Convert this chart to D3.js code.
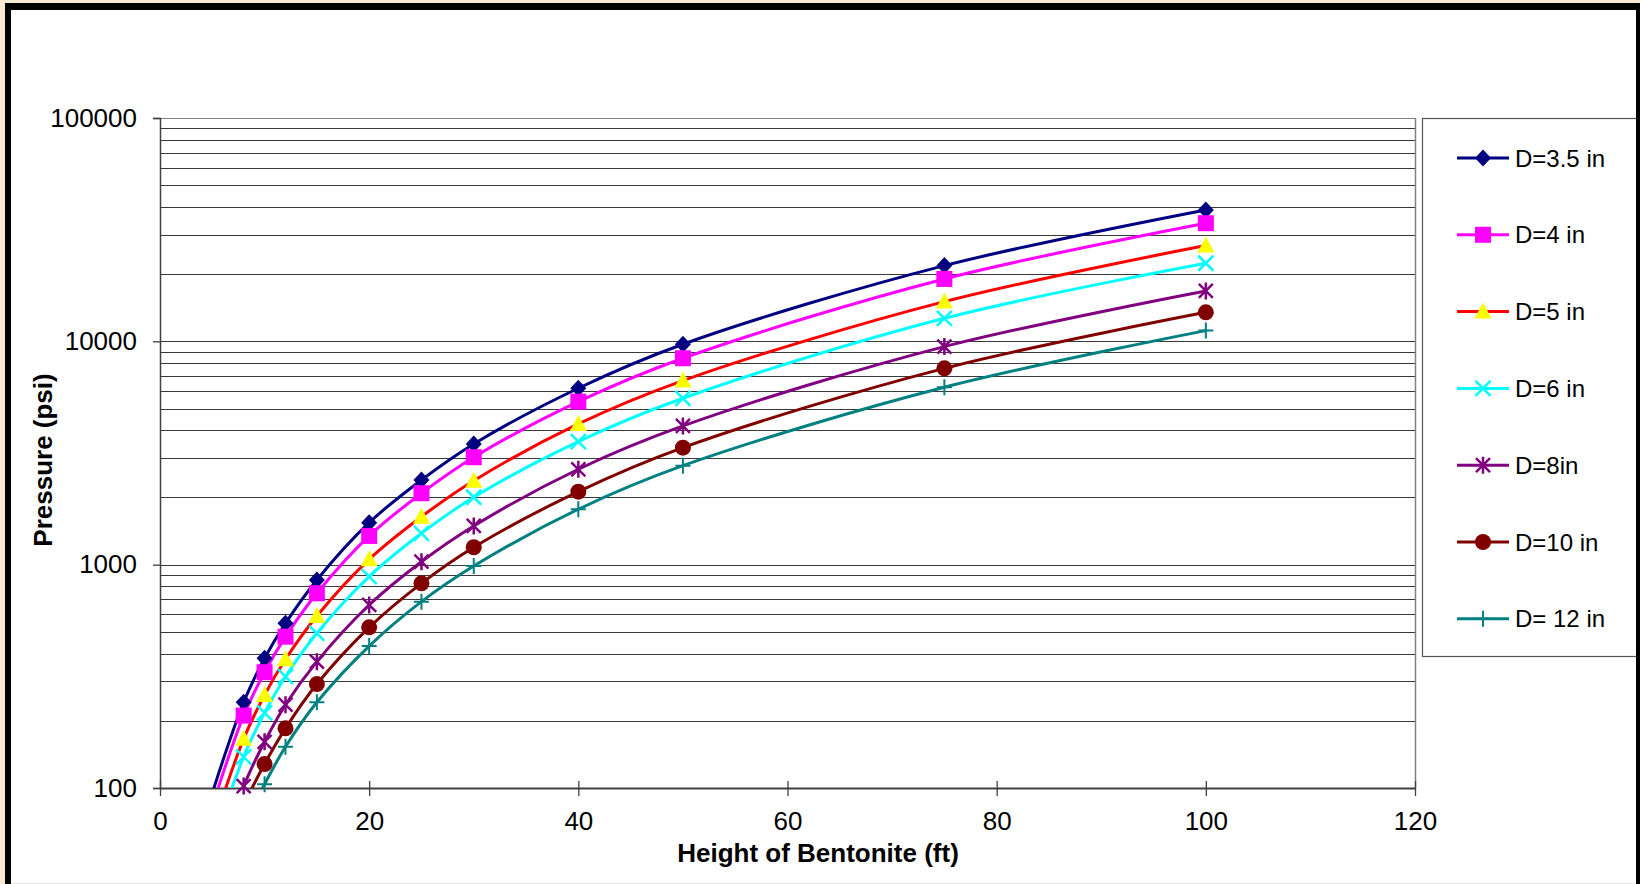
<!DOCTYPE html>
<html>
<head>
<meta charset="utf-8">
<script src="https://cdn.jsdelivr.net/npm/d3@7"></script>
<style>
  html, body { margin: 0; padding: 0; background: #f6ead3; }
  svg { display: block; }
  text { font-family: "Liberation Sans", Arial, sans-serif; fill: #000; }
</style>
</head>
<body>
<svg id="chart" width="1640" height="884"></svg>
<script>
// ---- data ----
const heights = [5, 8, 10, 12, 15, 20, 25, 30, 40, 50, 75, 100];
const seriesNames = ["D=3.5 in", "D=4 in", "D=5 in", "D=6 in", "D=8in", "D=10 in", "D= 12 in"];
const pD35 = [95, 242, 381, 546, 854, 1542, 2395, 3472, 6166, 9706, 21830, 38750];
const pD4  = [83, 211, 330, 476, 745, 1345, 2088, 3027, 5370, 8400, 19030, 33800];
const pD5  = [66, 166, 261, 377, 589, 1057, 1640, 2377, 4266, 6670, 15060, 26840];
const pD6  = [55, 138, 217, 315, 493, 884, 1382, 2004, 3557, 5560, 12680, 22370];
const pD8  = [41, 102, 161, 236, 368, 660, 1031, 1490, 2674, 4180, 9470, 16810];
const pD10 = [33, 83, 128, 185, 292, 524, 825, 1197, 2123, 3342, 7570, 13490];
const pD12 = [28, 68, 104, 153, 242, 432, 683, 986, 1771, 2775, 6230, 11170];
const seriesValues = [pD35, pD4, pD5, pD6, pD8, pD10, pD12];
const xTicks = [0, 20, 40, 60, 80, 100, 120];
const yTicks = [100, 1000, 10000, 100000];
const xTitle = "Height of Bentonite (ft)";
const yTitle = "Pressure (psi)";

// ---- styles ----
const lineColors = ["#000080", "#ff00ff", "#ff0000", "#00ffff", "#800080", "#800000", "#008080"];
const markerTypes = ["diamond", "square", "triangle", "x", "star", "circle", "plus"];
const markerFill = ["#000080", "#ff00ff", "#ffff00", "none", "none", "#800000", "none"];
const markerStroke = ["#000080", "#ff00ff", "#ffff00", "#00ffff", "#800080", "#800000", "#008080"];

const svg = d3.select("#chart");

// outer frame
svg.append("rect").attr("x", 5).attr("y", 3).attr("width", 1650).attr("height", 900).attr("fill", "#000");
svg.append("rect").attr("x", 11).attr("y", 10).attr("width", 1625).attr("height", 873).attr("fill", "#fff");
svg.append("line").attr("x1", 11).attr("x2", 1636).attr("y1", 883.5).attr("y2", 883.5).attr("stroke", "#e8e8e8");

const L = 160, R = 1415, T = 118, B = 788;
const x = d3.scaleLinear().domain([0, 120]).range([L, R]);
const y = d3.scaleLog().domain([100, 100000]).range([B, T]);

// gridlines at every log minor tick
const gridVals = [];
for (let e = 2; e <= 5; e++) {
  for (let m = 1; m <= 9; m++) {
    const v = m * Math.pow(10, e);
    if (v > 100 && v <= 100000) gridVals.push(v);
  }
}
svg.append("g").selectAll("line").data(gridVals).join("line")
  .attr("x1", L).attr("x2", R)
  .attr("y1", d => Math.round(y(d)) + 0.5).attr("y2", d => Math.round(y(d)) + 0.5)
  .attr("stroke", d => d === 100000 ? "#808080" : "#3a3a3a").attr("stroke-width", 1.2);

// plot border right
svg.append("line").attr("x1", R + 0.5).attr("x2", R + 0.5).attr("y1", T).attr("y2", B)
  .attr("stroke", "#808080").attr("stroke-width", 1.5);

// y axis
const yAxis = d3.axisLeft(y).tickValues(yTicks).tickFormat(d3.format("d")).tickSize(7).tickPadding(16);
const gy = svg.append("g").attr("transform", `translate(${L},0)`).call(yAxis);
gy.select(".domain").attr("stroke", "#404040").attr("stroke-width", 1.5);
gy.selectAll(".tick line").attr("stroke", "#404040").attr("stroke-width", 1.3);
gy.selectAll(".tick text").attr("font-size", 26).attr("font-family", "Liberation Sans, Arial, sans-serif").attr("fill", "#000");

// x axis (cross ticks)
const xAxis = d3.axisBottom(x).tickValues(xTicks).tickSize(8).tickPadding(16).tickSizeOuter(0);
const gx = svg.append("g").attr("transform", `translate(0,${B})`).call(xAxis);
gx.select(".domain").attr("stroke", "#404040").attr("stroke-width", 1.8);
gx.selectAll(".tick line").attr("y1", -7).attr("stroke", "#404040").attr("stroke-width", 1.3);
gx.selectAll(".tick text").attr("font-size", 26).attr("font-family", "Liberation Sans, Arial, sans-serif").attr("fill", "#000");

// axis titles
svg.append("text").attr("x", 818).attr("y", 853).attr("text-anchor", "middle").attr("dominant-baseline", "central")
  .attr("font-size", 26).attr("font-weight", "bold").text(xTitle);
svg.append("text").attr("transform", "translate(43,460) rotate(-90)").attr("text-anchor", "middle").attr("dominant-baseline", "central")
  .attr("font-size", 26).attr("font-weight", "bold").text(yTitle);

// clip
svg.append("defs").append("clipPath").attr("id", "plotclip")
  .append("rect").attr("x", L).attr("y", T).attr("width", R - L).attr("height", B - T);

const line = d3.line().x(d => x(d[0])).y(d => y(d[1])).curve(d3.curveCatmullRom.alpha(0.5));

const series = seriesValues.map((vals, i) => ({
  name: seriesNames[i], i, pts: heights.map((h, j) => [h, vals[j]])
}));

const gl = svg.append("g").attr("clip-path", "url(#plotclip)");
gl.selectAll("path").data(series).join("path")
  .attr("d", s => line(s.pts)).attr("fill", "none")
  .attr("stroke", s => lineColors[s.i]).attr("stroke-width", 3);

function drawMarker(g, type, cx, cy, i) {
  const f = markerFill[i], s = markerStroke[i];
  if (type === "diamond") {
    g.append("path").attr("d", `M${cx},${cy - 8.5}L${cx + 8},${cy}L${cx},${cy + 8.5}L${cx - 8},${cy}Z`).attr("fill", f);
  } else if (type === "square") {
    g.append("rect").attr("x", cx - 8).attr("y", cy - 8).attr("width", 16).attr("height", 16).attr("fill", f);
  } else if (type === "triangle") {
    g.append("path").attr("d", `M${cx},${cy - 9}L${cx + 8.5},${cy + 7}L${cx - 8.5},${cy + 7}Z`).attr("fill", f);
  } else if (type === "circle") {
    g.append("circle").attr("cx", cx).attr("cy", cy).attr("r", 8).attr("fill", f);
  } else if (type === "x") {
    g.append("path").attr("d", `M${cx - 7.5},${cy - 7.5}L${cx + 7.5},${cy + 7.5}M${cx - 7.5},${cy + 7.5}L${cx + 7.5},${cy - 7.5}`)
      .attr("stroke", s).attr("stroke-width", 2.5).attr("fill", "none");
  } else if (type === "star") {
    g.append("path").attr("d", `M${cx - 7},${cy - 7}L${cx + 7},${cy + 7}M${cx - 7},${cy + 7}L${cx + 7},${cy - 7}M${cx},${cy - 8.5}L${cx},${cy + 8.5}`)
      .attr("stroke", s).attr("stroke-width", 2.5).attr("fill", "none");
  } else if (type === "plus") {
    g.append("path").attr("d", `M${cx - 7.5},${cy}L${cx + 7.5},${cy}M${cx},${cy - 8}L${cx},${cy + 8}`)
      .attr("stroke", s).attr("stroke-width", 2).attr("fill", "none");
  }
}

const gm = svg.append("g");
series.forEach(s => {
  s.pts.filter(p => p[1] >= 100).forEach(p => {
    drawMarker(gm, markerTypes[s.i], x(p[0]), y(p[1]), s.i);
  });
});

// legend
const lg = svg.append("g");
lg.append("rect").attr("x", 1422.5).attr("y", 118.5).attr("width", 260).attr("height", 538)
  .attr("fill", "#fff").attr("stroke", "#555").attr("stroke-width", 1.2);
series.forEach((s, k) => {
  const cy = 158 + k * 76.8;
  lg.append("line").attr("x1", 1457).attr("x2", 1509).attr("y1", cy).attr("y2", cy)
    .attr("stroke", lineColors[s.i]).attr("stroke-width", 3);
  drawMarker(lg, markerTypes[s.i], 1483, cy, s.i);
  lg.append("text").attr("x", 1515).attr("y", cy).attr("dominant-baseline", "central")
    .attr("font-size", 24).text(s.name);
});
// redraw right frame strip over legend
svg.append("rect").attr("x", 1636).attr("y", 3).attr("width", 10).attr("height", 900).attr("fill", "#000");
</script>
</body>
</html>
